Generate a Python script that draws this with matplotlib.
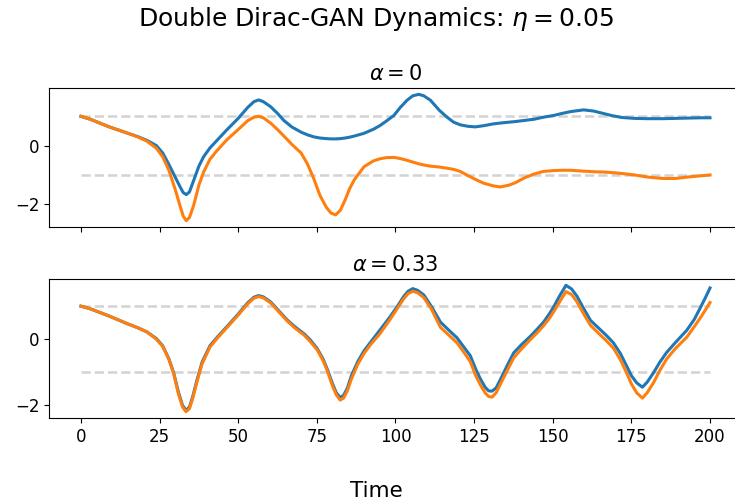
import matplotlib
matplotlib.use('Agg')
import matplotlib.pyplot as plt
import numpy as np

# alpha = 0
t_top = [0, 3, 6, 9, 12, 15, 18, 21, 24, 26, 28, 30, 31.5, 32.5, 33.5, 34.5, 35.8, 37.5, 39, 41,
         43, 46.4, 50, 53, 55, 56.5, 58, 60.3, 62.5, 64.5, 67, 70, 72, 74, 76, 78, 79.5, 81, 82.5, 84,
         85.5, 87, 90, 93, 95, 97, 99.5, 101.5, 103.7, 105.5, 107.4, 109, 111.1, 114, 116.4, 118.5, 120.6, 123, 125.4, 128,
         131, 133.3, 136, 138, 141, 144, 147, 150.3, 153, 155.6, 159.8, 163, 166, 169, 172, 176, 180, 185, 189, 193,
         197, 200]
x1_top = [1.0, 0.9, 0.77, 0.64, 0.53, 0.42, 0.31, 0.18, 0.0, -0.25, -0.65, -1.08, -1.4, -1.6, -1.67, -1.58, -1.2, -0.7, -0.38, -0.08,
          0.15, 0.54, 0.93, 1.3, 1.5, 1.56, 1.5, 1.33, 1.1, 0.86, 0.64, 0.46, 0.37, 0.3, 0.26, 0.24, 0.23, 0.23, 0.24, 0.26,
          0.29, 0.33, 0.42, 0.56, 0.68, 0.83, 1.03, 1.3, 1.55, 1.7, 1.75, 1.7, 1.55, 1.2, 0.97, 0.8, 0.71, 0.66, 0.64, 0.68,
          0.74, 0.77, 0.8, 0.82, 0.86, 0.9, 0.97, 1.03, 1.1, 1.16, 1.22, 1.18, 1.1, 1.02, 0.96, 0.93, 0.92, 0.92, 0.93, 0.94,
          0.95, 0.95]
x2_top = [1.0, 0.9, 0.77, 0.64, 0.53, 0.42, 0.3, 0.15, -0.09, -0.38, -0.85, -1.5, -2.05, -2.4, -2.56, -2.45, -2.05, -1.35, -0.9, -0.47,
          -0.2, 0.2, 0.55, 0.85, 0.97, 1.0, 0.95, 0.77, 0.55, 0.33, 0.05, -0.25, -0.62, -1.12, -1.7, -2.1, -2.3, -2.36, -2.2, -1.85,
          -1.45, -1.15, -0.72, -0.52, -0.45, -0.41, -0.4, -0.44, -0.5, -0.56, -0.62, -0.66, -0.7, -0.73, -0.77, -0.81, -0.88, -1.02, -1.15, -1.28,
          -1.37, -1.41, -1.35, -1.27, -1.1, -0.97, -0.88, -0.85, -0.84, -0.84, -0.87, -0.89, -0.9, -0.92, -0.95, -1.0, -1.07, -1.12, -1.12, -1.07,
          -1.03, -1.0]

# alpha = 0.33
t_bot = [0, 3, 6, 9, 12, 15, 18, 21, 24, 26, 28, 29.5, 31, 32.3, 33.4, 34.5, 35.5, 37, 38.5, 41,
         43.5, 46.4, 50, 53, 55, 56.5, 58, 60.3, 63, 65.6, 68, 71, 73, 75.1, 77, 78.5, 80, 81.2, 82.4, 83.5,
         84.7, 86, 88, 90, 92, 95, 98.3, 100.5, 102.6, 104, 105.5, 107, 109, 111.5, 114.3, 117, 119.6, 122, 123.8, 125.5,
         127, 128.5, 129.6, 130.7, 132, 133.3, 135.5, 137.6, 140, 142.9, 145, 147.1, 149, 150.3, 152, 154.2, 156, 157.7, 160, 162,
         165, 167, 169.3, 171.5, 173.5, 175, 176.7, 178.5, 180, 182, 184, 186.2, 189, 192.6, 195, 196.8, 198.5, 200]
x1_bot = [1.0, 0.92, 0.81, 0.7, 0.58, 0.46, 0.35, 0.22, 0.02, -0.2, -0.6, -1.02, -1.6, -2.0, -2.15, -2.05, -1.75, -1.2, -0.7, -0.2,
          0.08, 0.38, 0.76, 1.1, 1.27, 1.32, 1.28, 1.13, 0.85, 0.58, 0.38, 0.16, -0.03, -0.28, -0.6, -0.95, -1.35, -1.62, -1.76, -1.7,
          -1.48, -1.1, -0.68, -0.35, -0.1, 0.27, 0.68, 0.98, 1.29, 1.45, 1.53, 1.48, 1.34, 0.98, 0.52, 0.27, 0.04, -0.27, -0.5, -0.9,
          -1.2, -1.45, -1.56, -1.57, -1.47, -1.23, -0.8, -0.41, -0.17, 0.09, 0.3, 0.52, 0.78, 0.98, 1.28, 1.63, 1.52, 1.3, 0.9, 0.57,
          0.3, 0.12, -0.11, -0.43, -0.81, -1.1, -1.32, -1.45, -1.3, -1.02, -0.7, -0.4, -0.1, 0.27, 0.6, 0.93, 1.25, 1.55]
x2_bot = [1.0, 0.92, 0.81, 0.7, 0.58, 0.46, 0.35, 0.22, 0.0, -0.22, -0.62, -1.05, -1.65, -2.05, -2.19, -2.1, -1.8, -1.25, -0.75, -0.24,
          0.05, 0.35, 0.73, 1.07, 1.24, 1.29, 1.25, 1.1, 0.82, 0.55, 0.34, 0.12, -0.08, -0.32, -0.65, -1.0, -1.42, -1.68, -1.84, -1.78,
          -1.56, -1.2, -0.76, -0.43, -0.17, 0.16, 0.6, 0.92, 1.22, 1.38, 1.45, 1.41, 1.26, 0.9, 0.36, 0.12, -0.11, -0.43, -0.68, -1.1,
          -1.38, -1.62, -1.73, -1.75, -1.62, -1.37, -0.95, -0.56, -0.3, -0.01, 0.19, 0.41, 0.64, 0.83, 1.1, 1.44, 1.35, 1.13, 0.74, 0.42,
          0.14, -0.04, -0.27, -0.62, -1.02, -1.35, -1.62, -1.78, -1.62, -1.32, -0.95, -0.6, -0.28, 0.06, 0.38, 0.63, 0.88, 1.11]

targets = [1, -1]

fig = plt.figure(figsize=(7.35, 5.01), dpi=100)
ax1 = fig.add_axes([0.0673, 0.5469, 0.9415, 0.2774])
ax2 = fig.add_axes([0.0673, 0.1657, 0.9415, 0.2774], sharex=ax1)

paneles = [(ax1, t_top, x1_top, x2_top, r'$\alpha = 0$'),
           (ax2, t_bot, x1_bot, x2_bot, r'$\alpha = 0.33$')]

for ax, t, x1, x2, titulo in paneles:
    for y in targets:
        ax.hlines(y, t[0], t[-1], colors='lightgray', linestyles='--', linewidth=1.8)
    ax.plot(t, x1, color='tab:blue', linewidth=2.2)
    ax.plot(t, x2, color='tab:orange', linewidth=2.2)
    ax.set_title(titulo, fontsize=15)
    ax.tick_params(labelsize=12)

ax1.set_xlim(-10, 210)
plt.setp(ax1.get_xticklabels(), visible=False)
ax2.set_xticks([0, 25, 50, 75, 100, 125, 150, 175, 200])

fig.text(0.5116, 0.963, r'Double Dirac-GAN Dynamics: $\eta = 0.05$', ha='center', va='center', fontsize=18)
fig.text(0.5116, 0.02, 'Time', ha='center', va='center', fontsize=15.5)

fig.savefig('out.png', dpi=100)
